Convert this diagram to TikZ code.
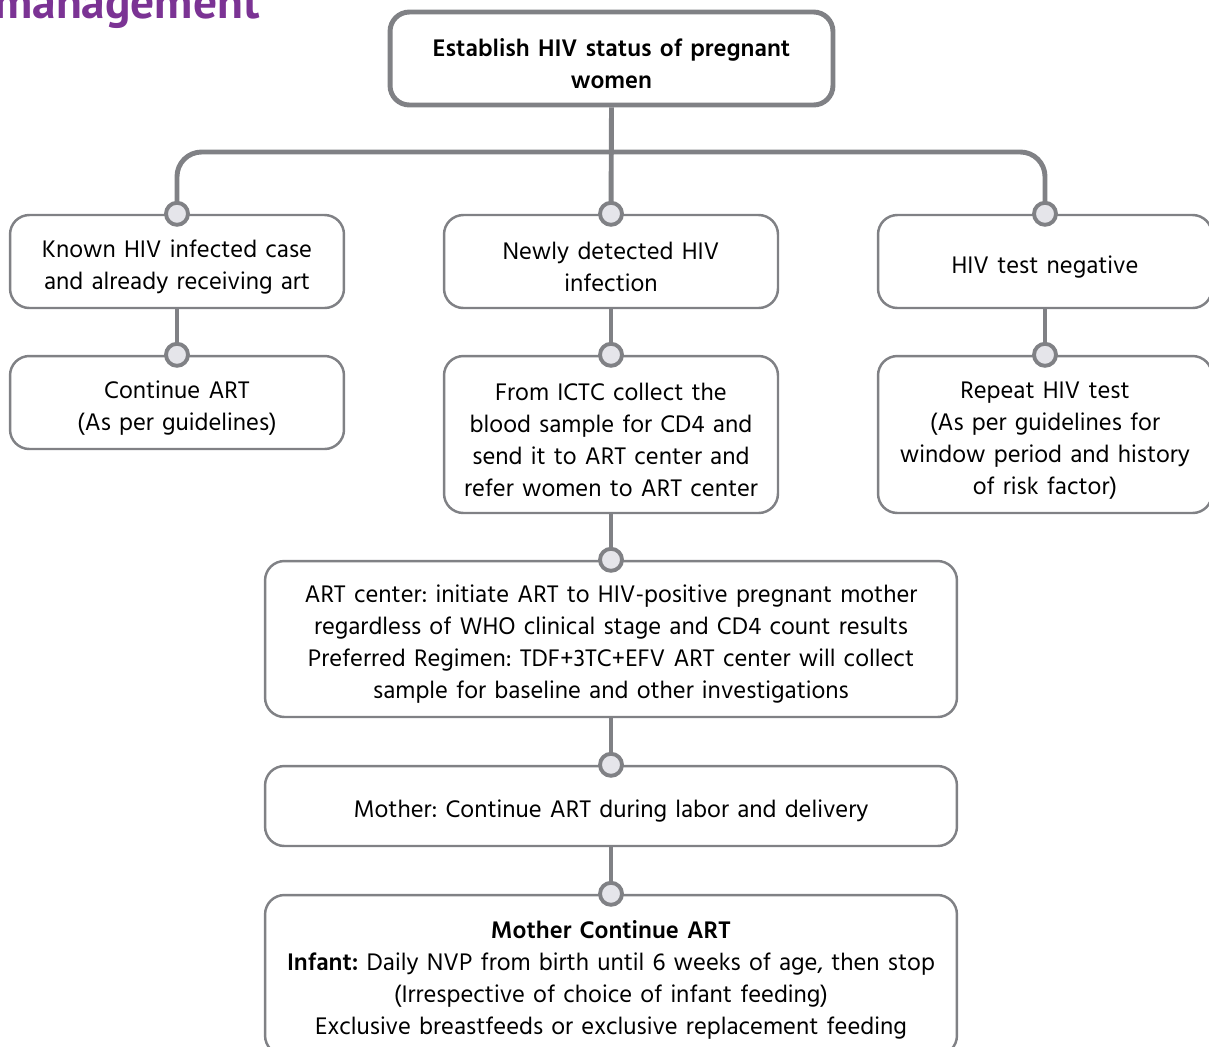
\documentclass[tikz,border=0pt]{standalone}
\usepackage{fontspec}
\setmainfont{Hind Siliguri}
\newfontfamily\headfont{PT Sans}
\usepackage{tikz}
\usepackage{xcolor}
\usetikzlibrary{positioning}
\frenchspacing
\definecolor{flgray}{RGB}{128, 129, 133}
\definecolor{dotfill}{RGB}{229, 229, 234}
\definecolor{headpurple}{RGB}{123, 51, 148}
\tikzset{
    flownode/.style={draw=flgray, line width=1.4pt, rounded corners=11pt, fill=white, align=center, inner sep=0pt, font=\fontsize{14}{18.2}\selectfont, execute at begin node={\rule{0pt}{16pt}}},
    topnode/.style={flownode, line width=2.8pt, font=\fontsize{14}{18.2}\selectfont\bfseries},
    dotnode/.style={circle, draw=flgray, line width=2.2pt, fill=dotfill, minimum size=0.44cm, inner sep=0pt},
    link/.style={draw=flgray, line width=2.8pt}
}
\begin{document}
\begin{tikzpicture}[x=0.02cm, y=-0.02cm]
\useasboundingbox (0,0) rectangle (1209,1046);
% heading, cut at the page edge
\node[anchor=base east, inner sep=0pt, text=headpurple, font=\headfont\bfseries\fontsize{27}{30}\selectfont] (head) at (260,18) {management};

% status
\node[topnode, text width=8.86cm, minimum height=1.86cm] (status) at (611.5,58.5) {Establish HIV status of pregnant\\women};

% three cases
\node[flownode, text width=6.68cm, minimum height=1.86cm] (known) at (177,261.5) {Known HIV infected case\\and already receiving art};
\node[flownode, text width=6.68cm, minimum height=1.86cm] (newly) at (611,261.5) {Newly detected HIV\\infection};
\node[flownode, text width=6.68cm, minimum height=1.86cm] (negative) at (1045,261.5) {HIV test negative};

\node[flownode, text width=6.68cm, minimum height=1.86cm] (contart) at (177,402.5) {Continue ART\\(As per guidelines)};
\node[flownode, text width=6.68cm, minimum height=3.14cm] (ictc) at (611,434.5) {From ICTC collect the\\blood sample for CD4 and\\send it to ART center and\\refer women to ART center};
\node[flownode, text width=6.68cm, minimum height=3.14cm] (repeat) at (1045,434.5) {Repeat HIV test\\(As per guidelines for\\window period and history\\of risk factor)};

% ART center and after
\node[flownode, text width=13.84cm, minimum height=3.12cm] (artcenter) at (611,639) {ART center: initiate ART to HIV-positive pregnant mother\\regardless of WHO clinical stage and CD4 count results\\Preferred Regimen: TDF+3TC+EFV ART center will collect\\sample for baseline and other investigations};
\node[flownode, text width=13.84cm, minimum height=1.6cm] (labor) at (611,806) {Mother: Continue ART during labor and delivery};
\node[flownode, text width=13.84cm, minimum height=3.2cm] (infant) at (611,975) {\textbf{Mother Continue ART}\\\textbf{Infant:} Daily NVP from birth until 6 weeks of age, then stop\\(Irrespective of choice of infant feeding)\\Exclusive breastfeeds or exclusive replacement feeding};

% connectors
\coordinate (bus) at (611,152);
\draw[link, rounded corners=14pt] (known.north) |- (bus) -| (negative.north);
\draw[link] (status.south) -- (newly.north);
\draw[link] (known.south) -- (contart.north);
\draw[link] (newly.south) -- (ictc.north);
\draw[link] (negative.south) -- (repeat.north);
\draw[link] (ictc.south) -- (artcenter.north);
\draw[link] (artcenter.south) -- (labor.north);
\draw[link] (labor.south) -- (infant.north);

% dots on the box tops
\foreach \b in {known, newly, negative, contart, ictc, repeat, artcenter, labor, infant}
    \node[dotnode] (dot-\b) at (\b.north) {};
\end{tikzpicture}
\end{document}
